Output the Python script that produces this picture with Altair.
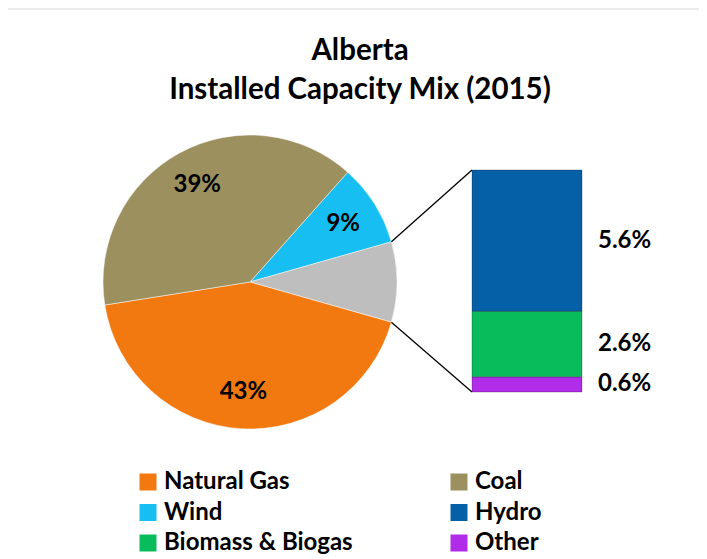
import math
import altair as alt
import pandas as pd

# ---- data ----
pie_categories = ["Wind", "Hydro, Biomass & Other", "Natural Gas", "Coal"]
pie_values = [9.0, 8.8, 43.0, 39.0]
pie_labels = ["9%", "", "43%", "39%"]

bar_categories = ["Other", "Biomass & Biogas", "Hydro"]
bar_values = [0.6, 2.6, 5.6]
bar_labels = ["0.6%", "2.6%", "5.6%"]

# legend is filled column by column: left column, then right column
legend_order = ["Natural Gas", "Wind", "Biomass & Biogas", "Coal", "Hydro", "Other"]
title_lines = ["Alberta", "Installed Capacity Mix (2015)"]

# ---- styles ----
color_domain = ["Natural Gas", "Coal", "Wind", "Hydro", "Biomass & Biogas", "Other",
                "Hydro, Biomass & Other"]
color_range = ["#F2790F", "#9C905F", "#17BEF2", "#0560A8", "#08BC5C", "#B02CE8", "#BEBEBE"]
FONT = "Lato"
W, H = 691, 549
CX, CY, R = 242, 274, 147
BAR_X0, BAR_X1, BAR_TOP, BAR_BOT = 464, 574, 162, 384

pie_df = pd.DataFrame({"category": pie_categories, "value": pie_values,
                       "label": pie_labels, "order": list(range(len(pie_values)))})
bar_df = pd.DataFrame({"category": bar_categories, "share": bar_values,
                       "label": bar_labels, "order": list(range(len(bar_values)))})

total = sum(pie_values)
start = math.pi / 2 - 2 * math.pi * (pie_values[0] + pie_values[1] / 2) / total
theta_scale = alt.Scale(domain=[0, total], range=[start, start + 2 * math.pi])

color = alt.Color("category:N",
                  scale=alt.Scale(domain=color_domain, range=color_range),
                  legend=alt.Legend(values=legend_order, columns=2, orient="none",
                                    direction="vertical", legendX=128, legendY=462,
                                    title=None, symbolType="square", symbolSize=289,
                                    symbolStrokeWidth=0, symbolOpacity=1,
                                    labelFont=FONT, labelFontSize=24,
                                    labelFontWeight="bold", labelColor="#000000",
                                    labelOffset=4, rowPadding=6.5, columnPadding=94,
                                    labelLimit=400))

pie = alt.Chart(pie_df).mark_arc(outerRadius=R, stroke="#ffffff", strokeWidth=0.8,
                                 strokeOpacity=0.6).encode(
    theta=alt.Theta("value:Q", stack=True, scale=theta_scale),
    order=alt.Order("order:Q"),
    color=color,
    x=alt.value(CX), y=alt.value(CY),
)

pie_text = alt.Chart(pie_df).mark_text(radius=110, font=FONT, fontSize=24,
                                       fontWeight="bold", color="#000000").encode(
    theta=alt.Theta("value:Q", stack=True, scale=theta_scale),
    order=alt.Order("order:Q"),
    text="label:N",
    x=alt.value(CX), y=alt.value(CY),
)

# connector lines from the grey slice edges to the bar corners
a1 = start + 2 * math.pi * pie_values[0] / total
a2 = a1 + 2 * math.pi * pie_values[1] / total
conn_df = pd.DataFrame({
    "x": [CX + R * math.sin(a1), CX + R * math.sin(a2)],
    "y": [CY - R * math.cos(a1), CY - R * math.cos(a2)],
    "x2": [BAR_X0, BAR_X0],
    "y2": [BAR_TOP, BAR_BOT],
})
connectors = alt.Chart(conn_df).mark_rule(color="#000000", strokeWidth=1.3).encode(
    x=alt.X("x:Q", scale=None), y=alt.Y("y:Q", scale=None),
    x2="x2:Q", y2="y2:Q",
)

y_scale = alt.Scale(domain=[0, sum(bar_values)], range=[BAR_BOT, BAR_TOP])
bar_base = alt.Chart(bar_df).transform_window(
    cum="sum(share)", sort=[alt.SortField("order")], frame=[None, 0]
).transform_calculate(
    lo="datum.cum - datum.share", mid="datum.cum - datum.share / 2"
)
bars = bar_base.mark_rect(stroke="#000000", strokeOpacity=0.25, strokeWidth=1).encode(
    x=alt.value(BAR_X0), x2=alt.value(BAR_X1),
    y=alt.Y("lo:Q", scale=y_scale, axis=None), y2="cum:Q",
    color=color,
)
bar_text = bar_base.mark_text(align="left", baseline="middle", font=FONT, fontSize=24,
                              fontWeight="bold", color="#000000").encode(
    x=alt.value(590),
    y=alt.Y("mid:Q", scale=y_scale, axis=None),
    text="label:N",
)

title = alt.Chart(alt.Data(values=[{}])).mark_text(
    text=title_lines, font=FONT, fontSize=29.5, fontWeight="bold", color="#000000",
    align="center", baseline="alphabetic", lineHeight=39,
).encode(x=alt.value(352), y=alt.value(52))

frame = alt.Chart(alt.Data(values=[{}])).mark_rule(color="#EBEBEB", strokeWidth=2).encode(
    x=alt.value(0), x2=alt.value(W), y=alt.value(1)
)

chart = alt.layer(frame, pie, connectors, bars, pie_text, bar_text, title).properties(
    width=W, height=H, padding=0, autosize=alt.AutoSizeParams(type="none"),
    background="#ffffff",
).configure_view(stroke=None)

chart.save("out.html", embed_options={"renderer": "svg", "actions": False})
